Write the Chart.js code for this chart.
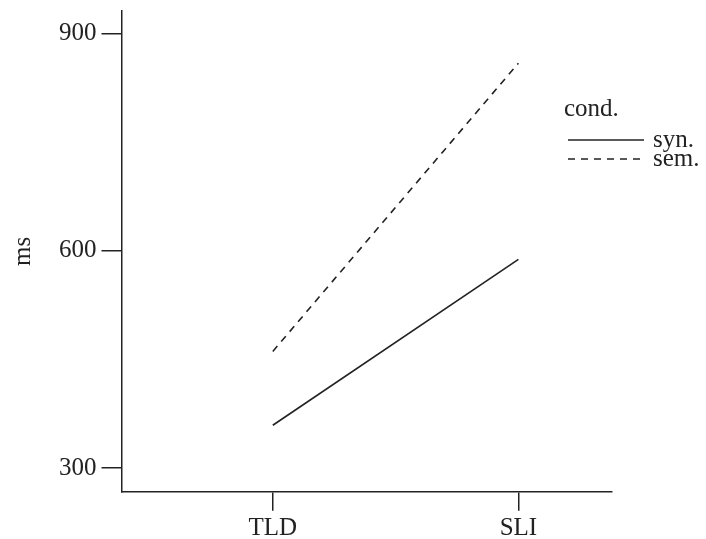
<!DOCTYPE html>
<html>
<head>
<meta charset="utf-8">
<script src="https://cdn.jsdelivr.net/npm/chart.js@4"></script>
<style>
  html, body { margin: 0; padding: 0; background: #fff; }
  #wrap { width: 706px; height: 539px; }
</style>
</head>
<body>
<div id="wrap"><canvas id="chart-interaction"></canvas></div>
<script>
const groups = ['TLD', 'SLI'];
const synValues = [359, 588];
const semValues = [461, 859];
const yTicks = [300, 600, 900];
const legendTitle = 'cond.';

const ink = '#222222';
const serif = "'Liberation Serif', 'DejaVu Serif', serif";

// legend drawn by hand, R style: title on top, line sample then label
const rLegend = {
    id: 'rLegend',
    afterDraw(chart) {
        const ctx = chart.ctx;
        ctx.save();
        ctx.font = '25px ' + serif;
        ctx.fillStyle = ink;
        ctx.textBaseline = 'alphabetic';
        ctx.textAlign = 'left';
        ctx.fillText(legendTitle, 564, 116);
        chart.data.datasets.forEach((ds, i) => {
            const y = 140 + i * 19;
            ctx.beginPath();
            ctx.setLineDash(ds.borderDash || []);
            ctx.lineWidth = ds.borderWidth;
            ctx.strokeStyle = ds.borderColor;
            ctx.moveTo(568, y);
            ctx.lineTo(644, y);
            ctx.stroke();
            ctx.setLineDash([]);
            ctx.fillText(ds.label, 653, y + 7);
        });
        ctx.restore();
    },
};

const ctx = document.getElementById('chart-interaction').getContext('2d');
new Chart(ctx, {
    type: 'line',
    data: {
        datasets: [
            {
                label: 'syn.',
                data: synValues.map((v, i) => ({ x: i + 1, y: v })),
                borderColor: ink,
                borderWidth: 1.6,
                pointRadius: 0,
                fill: false,
            },
            {
                label: 'sem.',
                data: semValues.map((v, i) => ({ x: i + 1, y: v })),
                borderColor: ink,
                borderWidth: 1.6,
                borderDash: [7, 6],
                pointRadius: 0,
                fill: false,
            },
        ],
    },
    options: {
        responsive: true,
        maintainAspectRatio: false,
        animation: false,
        layout: { padding: { top: 11, right: 94, left: 0, bottom: 0 } },
        plugins: {
            legend: { display: false },
            tooltip: { enabled: false },
        },
        scales: {
            x: {
                type: 'linear',
                min: 0.384,
                max: 2.381,
                afterBuildTicks: (scale) => {
                    scale.ticks = groups.map((g, i) => ({ value: i + 1 }));
                },
                afterFit: (scale) => {
                    scale.height = 47.3;
                    scale.paddingLeft = 0;
                    scale.paddingRight = 0;
                },
                ticks: {
                    callback: (v) => groups[v - 1] || '',
                    font: { family: serif, size: 25 },
                    color: ink,
                    padding: 3,
                    maxRotation: 0,
                    autoSkip: false,
                },
                grid: {
                    drawOnChartArea: false,
                    drawTicks: true,
                    tickLength: 19,
                    color: ink,
                    lineWidth: 1.5,
                },
                border: { display: true, color: ink, width: 1.5 },
            },
            y: {
                min: 267.3,
                max: 931,
                afterBuildTicks: (scale) => {
                    scale.ticks = yTicks.map((v) => ({ value: v }));
                },
                afterFit: (scale) => {
                    scale.width = 121.5;
                    scale.paddingTop = 0;
                    scale.paddingBottom = 0;
                },
                ticks: {
                    font: { family: serif, size: 25 },
                    color: ink,
                    padding: 5,
                    autoSkip: false,
                },
                grid: {
                    drawOnChartArea: false,
                    drawTicks: true,
                    tickLength: 20,
                    color: ink,
                    lineWidth: 1.5,
                },
                border: { display: true, color: ink, width: 1.5 },
                title: {
                    display: true,
                    text: 'ms',
                    font: { family: serif, size: 25 },
                    color: ink,
                    padding: { top: 8, bottom: 0 },
                },
            },
        },
    },
    plugins: [rLegend],
});
</script>
</body>
</html>
